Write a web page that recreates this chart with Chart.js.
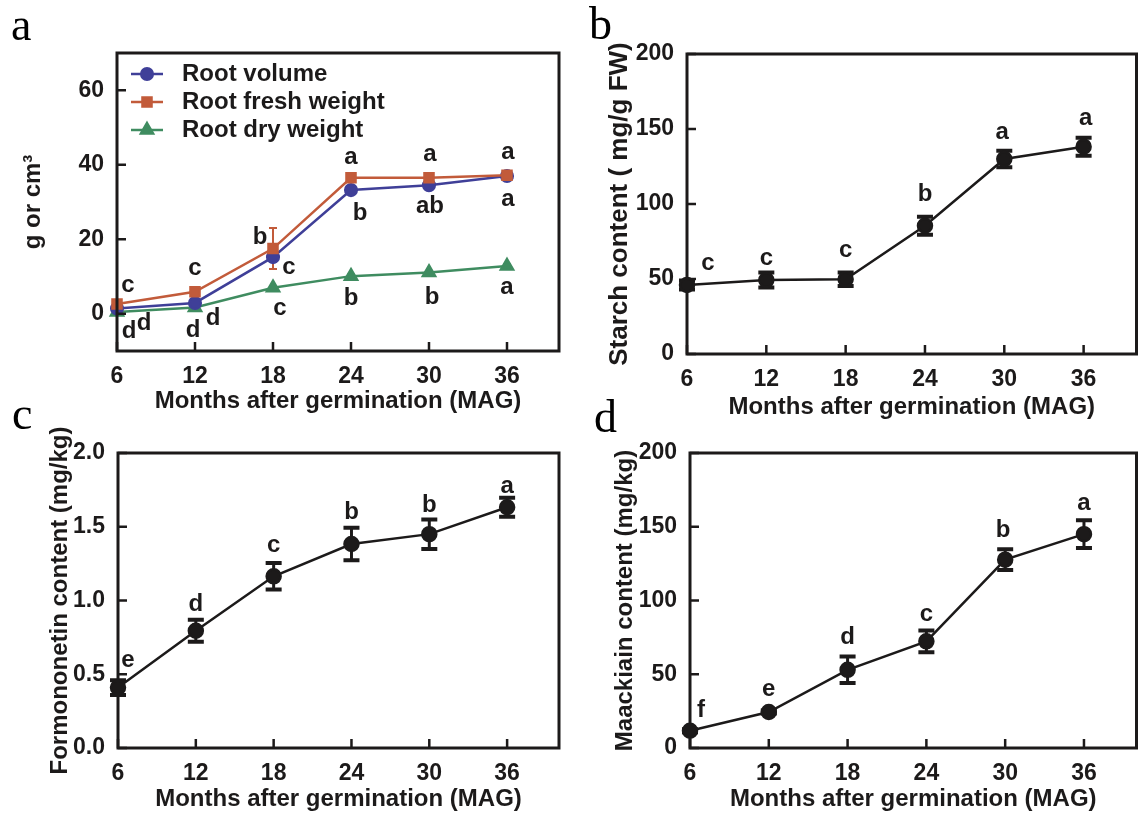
<!DOCTYPE html>
<html>
<head>
<meta charset="utf-8">
<script src="https://cdn.jsdelivr.net/npm/chart.js@4.4.1/dist/chart.umd.min.js"></script>
<style>
  html, body { margin: 0; padding: 0; background: #fff; }
  #wrap { position: relative; width: 1146px; height: 815px; }
  #wrap canvas { position: absolute; left: 0; top: 0; }
</style>
</head>
<body>
<div id="wrap">
  <canvas id="chartA" width="1146" height="815"></canvas>
  <canvas id="chartB" width="1146" height="815"></canvas>
  <canvas id="chartC" width="1146" height="815"></canvas>
  <canvas id="chartD" width="1146" height="815"></canvas>
</div>
<script>
// Months after germination
const months = [6, 12, 18, 24, 30, 36];
const xTicks = [6, 12, 18, 24, 30, 36];

// Panel a - root growth
const rootVolume = [1.4, 2.9, 15.2, 33.2, 34.5, 37.0];
const rootVolumeErr = [0.3, 0.5, 1.2, 0.6, 0.8, 0.6];
const rootVolumeLetters = ['d', 'd', 'c', 'b', 'ab', 'a'];
const rootFresh = [2.6, 5.9, 17.5, 36.5, 36.5, 37.2];
const rootFreshErr = [0.3, 0.6, 5.5, 0.6, 1.2, 0.7];
const rootFreshLetters = ['c', 'c', 'b', 'a', 'a', 'a'];
const rootDry = [0.5, 1.7, 7.0, 10.1, 11.1, 12.8];
const rootDryErr = [0.1, 0.2, 0.4, 0.4, 0.4, 0.4];
const rootDryLetters = ['d', 'd', 'c', 'b', 'b', 'a'];
const yTicksA = [0, 20, 40, 60];

// Panel b - starch
const starch = [46, 49.3, 49.8, 85.5, 130, 138.2];
const starchErr = [3, 5, 4.5, 6, 5.5, 6];
const starchLetters = ['c', 'c', 'c', 'b', 'a', 'a'];
const yTicksB = [0, 50, 100, 150, 200];

// Panel c - formononetin
const formononetin = [0.41, 0.795, 1.164, 1.383, 1.45, 1.632];
const formononetinErr = [0.05, 0.075, 0.09, 0.11, 0.1, 0.065];
const formononetinLetters = ['e', 'd', 'c', 'b', 'b', 'a'];
const yTicksC = [0, 0.5, 1.0, 1.5, 2.0];

// Panel d - maackiain
const maackiain = [11.7, 24.4, 53, 72.3, 127.7, 145];
const maackiainErr = [1, 1, 9, 7.3, 7, 9.4];
const maackiainLetters = ['f', 'e', 'd', 'c', 'b', 'a'];
const yTicksD = [0, 50, 100, 150, 200];

// letter label offsets from their point (px)
const freshOffsets = [[11, -19], [0, -23], [-13, -11], [0, -20], [1, -23], [1, -23]];
const volumeOffsets = [[27, 15], [18, 15], [16, 10], [9, 23], [1, 21], [1, 23]];
const dryOffsets = [[12, 19], [-2, 23], [7, 21], [0, 22], [3, 25], [0, 21]];
const starchOffsets = [[21, -22], [0, -22], [0, -29], [0, -31], [-2, -27], [2, -28]];
const formOffsets = [[10, -27], [0, -26], [0, -31], [0, -32], [0, -29], [0, -21]];
const maackOffsets = [[11, -20], [0, -23], [0, -32], [0, -27], [-2, -29], [0, -31]];

const INK = '#1c1a1a';
const BLUE = '#3f3f98';
const ORANGE = '#c25b3a';
const GREEN = '#3f8c60';
const SANS = "'Liberation Sans', Arial, Helvetica, sans-serif";

Chart.defaults.font.family = SANS;
Chart.defaults.color = INK;

const pts = (vals) => months.map((m, i) => ({ x: m, y: vals[i] }));

function extras(cfg) {
  return {
    id: 'extras',
    beforeDatasetsDraw(chart) {
      const { ctx, scales: { x, y } } = chart;
      chart.data.datasets.forEach(ds => {
        if (!ds.errors) return;
        ctx.save();
        ctx.strokeStyle = ds.borderColor;
        ds.errors.forEach((e, i) => {
          const px = x.getPixelForValue(ds.data[i].x);
          const top = y.getPixelForValue(ds.data[i].y + e);
          const bot = y.getPixelForValue(ds.data[i].y - e);
          ctx.lineWidth = cfg.errLine;
          ctx.beginPath(); ctx.moveTo(px, top); ctx.lineTo(px, bot); ctx.stroke();
          ctx.lineWidth = cfg.capLine;
          ctx.beginPath();
          ctx.moveTo(px - cfg.capHalf, top); ctx.lineTo(px + cfg.capHalf, top);
          ctx.moveTo(px - cfg.capHalf, bot); ctx.lineTo(px + cfg.capHalf, bot);
          ctx.stroke();
        });
        ctx.restore();
      });
    },
    afterDraw(chart) {
      const { ctx, chartArea: a, scales: { x, y } } = chart;
      ctx.save();
      // frame
      ctx.strokeStyle = INK;
      ctx.lineWidth = 3;
      ctx.strokeRect(a.left, a.top, a.right - a.left, a.bottom - a.top);
      // inward ticks
      ctx.lineWidth = 2.5;
      ctx.beginPath();
      cfg.yTicks.forEach(v => {
        const py = y.getPixelForValue(v);
        ctx.moveTo(a.left, py); ctx.lineTo(a.left + 9, py);
      });
      xTicks.forEach(v => {
        const px = x.getPixelForValue(v);
        ctx.moveTo(px, a.bottom); ctx.lineTo(px, a.bottom - 9);
      });
      ctx.stroke();
      // significance letters
      ctx.fillStyle = INK;
      ctx.font = 'bold 24px ' + SANS;
      ctx.textAlign = 'center';
      ctx.textBaseline = 'middle';
      chart.data.datasets.forEach(ds => {
        if (!ds.letters) return;
        ds.letters.forEach((t, i) => {
          const px = x.getPixelForValue(ds.data[i].x) + ds.letterOffsets[i][0];
          const py = y.getPixelForValue(ds.data[i].y) + ds.letterOffsets[i][1];
          ctx.fillText(t, px, py);
        });
      });
      // legend (panel a)
      if (cfg.legend) {
        const L = cfg.legend;
        cfg.legendOrder.forEach((di, r) => {
          const ds = chart.data.datasets[di];
          const ry = L.rows[r];
          ctx.strokeStyle = ds.borderColor;
          ctx.lineWidth = 2.5;
          ctx.beginPath(); ctx.moveTo(L.x0, ry); ctx.lineTo(L.x1, ry); ctx.stroke();
          ctx.fillStyle = ds.borderColor;
          Chart.helpers.drawPoint(ctx, { pointStyle: ds.pointStyle, radius: ds.pointRadius, rotation: 0, borderWidth: 1 }, (L.x0 + L.x1) / 2, ry);
          ctx.fillStyle = INK;
          ctx.textAlign = 'left';
          ctx.font = 'bold 24px ' + SANS;
          ctx.fillText(ds.label, L.textX, ry);
        });
      }
      // panel letter
      ctx.fillStyle = '#000';
      ctx.font = "46px 'Liberation Serif', 'Times New Roman', serif";
      ctx.textAlign = 'left';
      ctx.textBaseline = 'alphabetic';
      ctx.fillText(cfg.tag, cfg.tagX, cfg.tagY);
      ctx.restore();
    }
  };
}

function makePanel(id, cfg) {
  return new Chart(document.getElementById(id), {
    type: 'line',
    data: { datasets: cfg.datasets },
    options: {
      responsive: false,
      animation: false,
      events: [],
      layout: { padding: cfg.padding },
      plugins: { legend: { display: false }, tooltip: { enabled: false } },
      scales: {
        x: {
          type: 'linear', min: 6, max: 40,
          afterBuildTicks: s => { s.ticks = xTicks.map(v => ({ value: v })); },
          afterFit: s => { s.height = cfg.xHeight; },
          grid: { display: false }, border: { display: false },
          ticks: { font: { size: 23, weight: 'bold' }, color: INK, padding: 4, maxRotation: 0, callback: v => String(v) },
          title: { display: true, text: 'Months after germination (MAG)', color: INK,
                   font: { size: 24, weight: 'bold' }, padding: { top: 0, bottom: cfg.xTitlePad } }
        },
        y: {
          type: 'linear', min: cfg.yMin, max: cfg.yMax,
          afterBuildTicks: s => { s.ticks = cfg.yTicks.map(v => ({ value: v })); },
          afterFit: s => { s.width = 100; },
          grid: { display: false }, border: { display: false },
          ticks: { font: { size: 23, weight: 'bold' }, color: INK, padding: 5, callback: cfg.yFmt || (v => String(v)) },
          title: { display: true, text: cfg.yTitle, color: INK,
                   font: { size: cfg.yTitleSize || 24, weight: 'bold' }, padding: { top: cfg.yTitlePad, bottom: 0 } }
        }
      }
    },
    plugins: [extras(cfg)]
  });
}

function blackSeries(label, vals, errs, letters, offsets) {
  return {
    label, data: pts(vals), errors: errs, letters, letterOffsets: offsets,
    borderColor: INK, backgroundColor: INK, borderWidth: 2.5, tension: 0,
    pointStyle: 'circle', pointRadius: 7, pointBackgroundColor: INK, pointBorderColor: INK,
    clip: false
  };
}

// Panel a
makePanel('chartA', {
  tag: 'a', tagX: 11, tagY: 40,
  padding: { left: 17, right: 587, top: 53, bottom: 389 },
  xHeight: 75, xTitlePad: 10,
  yMin: -10, yMax: 70, yTicks: yTicksA,
  yTitle: 'g or cm\u00B3', yTitlePad: 1.6,
  errLine: 2, capLine: 2, capHalf: 4,
  legend: { x0: 131, x1: 163, textX: 182, rows: [74, 102, 130] },
  legendOrder: [1, 0, 2],
  datasets: [
    { label: 'Root fresh weight', data: pts(rootFresh), errors: rootFreshErr, letters: rootFreshLetters, letterOffsets: freshOffsets,
      borderColor: ORANGE, backgroundColor: ORANGE, borderWidth: 2.5, tension: 0, order: 0,
      pointStyle: 'rect', pointRadius: 6.4, pointBackgroundColor: ORANGE, pointBorderColor: ORANGE, clip: false },
    { label: 'Root volume', data: pts(rootVolume), errors: rootVolumeErr, letters: rootVolumeLetters, letterOffsets: volumeOffsets,
      borderColor: BLUE, backgroundColor: BLUE, borderWidth: 2.5, tension: 0, order: 1,
      pointStyle: 'circle', pointRadius: 5.8, pointBackgroundColor: BLUE, pointBorderColor: BLUE, clip: false },
    { label: 'Root dry weight', data: pts(rootDry), errors: rootDryErr, letters: rootDryLetters, letterOffsets: dryOffsets,
      borderColor: GREEN, backgroundColor: GREEN, borderWidth: 2.5, tension: 0, order: 2,
      pointStyle: 'triangle', pointRadius: 7, pointBackgroundColor: GREEN, pointBorderColor: GREEN, clip: false }
  ]
});

// Panel b
makePanel('chartB', {
  tag: 'b', tagX: 589, tagY: 39,
  padding: { left: 587, right: 7, top: 54, bottom: 386 },
  xHeight: 75, xTitlePad: 7.6,
  yMin: 0, yMax: 200, yTicks: yTicksB,
  yTitle: 'Starch content ( mg/g FW)', yTitlePad: 17, yTitleSize: 26,
  errLine: 3, capLine: 4, capHalf: 8,
  datasets: [blackSeries('Starch', starch, starchErr, starchLetters, starchOffsets)]
});

// Panel c
makePanel('chartC', {
  tag: 'c', tagX: 12, tagY: 429,
  padding: { left: 18, right: 587, top: 453, bottom: 0 },
  xHeight: 67, xTitlePad: 1.6,
  yMin: 0, yMax: 2, yTicks: yTicksC, yFmt: v => Number(v).toFixed(1),
  yTitle: 'Formononetin content (mg/kg)', yTitlePad: 27.6,
  errLine: 3, capLine: 4, capHalf: 8,
  datasets: [blackSeries('Formononetin', formononetin, formononetinErr, formononetinLetters, formOffsets)]
});

// Panel d
makePanel('chartD', {
  tag: 'd', tagX: 594, tagY: 432,
  padding: { left: 590, right: 7, top: 453, bottom: 0 },
  xHeight: 67, xTitlePad: 1.6,
  yMin: 0, yMax: 200, yTicks: yTicksD,
  yTitle: 'Maackiain content (mg/kg)', yTitlePad: 20.6,
  errLine: 3, capLine: 4, capHalf: 8,
  datasets: [blackSeries('Maackiain', maackiain, maackiainErr, maackiainLetters, maackOffsets)]
});
</script>
</body>
</html>
